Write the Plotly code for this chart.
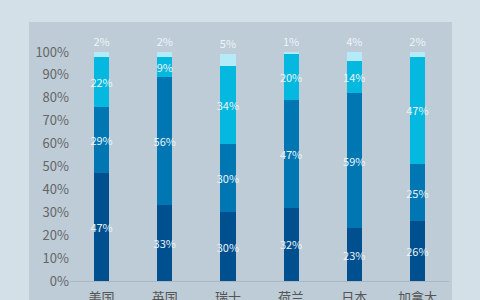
import plotly.graph_objects as go

countries = ["美国", "英国", "瑞士", "荷兰", "日本", "加拿大"]
seg1 = [47, 33, 30, 32, 23, 26]
seg2 = [29, 56, 30, 47, 59, 25]
seg3 = [22, 9, 34, 20, 14, 47]
seg4 = [2, 2, 5, 1, 4, 2]
series = [seg1, seg2, seg3, seg4]
colors = ["#00508f", "#0077b2", "#05b8df", "#b5ebf9"]
ytick_vals = [0, 10, 20, 30, 40, 50, 60, 70, 80, 90, 100]
ytick_text = [f"{v}%" for v in ytick_vals]

FONT = "Noto Sans CJK SC"

fig = go.Figure()
for i, (vals, col) in enumerate(zip(series, colors)):
    last = i == len(series) - 1
    fig.add_trace(go.Bar(
        x=countries, y=vals, marker=dict(color=col, line=dict(width=0)),
        width=0.24,
        text=[f"{v}%" for v in vals],
        textposition="outside" if last else "inside",
        textangle=0,
        insidetextanchor="middle",
        constraintext="none",
        cliponaxis=False,
        textfont=dict(family=FONT, size=11, color="#eef4f8"),
        hoverinfo="skip",
    ))

fig.update_layout(
    barmode="stack",
    width=480, height=300,
    margin=dict(l=70, r=31, t=52, b=19),
    paper_bgcolor="#d3e0e8",
    plot_bgcolor="rgba(0,0,0,0)",
    showlegend=False,
    font=dict(family=FONT),
    shapes=[dict(type="rect", xref="paper", yref="paper",
                 x0=-0.108, x1=1.008, y0=-0.2, y1=1.131,
                 fillcolor="#bdccd6", line=dict(width=0), layer="below")],
    xaxis=dict(showgrid=False, showline=True, linecolor="#a9b8c2", linewidth=1,
               tickfont=dict(size=13, color="#555555"), ticks="", automargin=False,
               ticklabelstandoff=4),
    yaxis=dict(range=[0, 100], showgrid=False, zeroline=False,
               tickvals=ytick_vals, ticktext=ytick_text, ticks="",
               tickfont=dict(size=13, color="#666666"), automargin=False),
)

fig.write_html("out.html")
